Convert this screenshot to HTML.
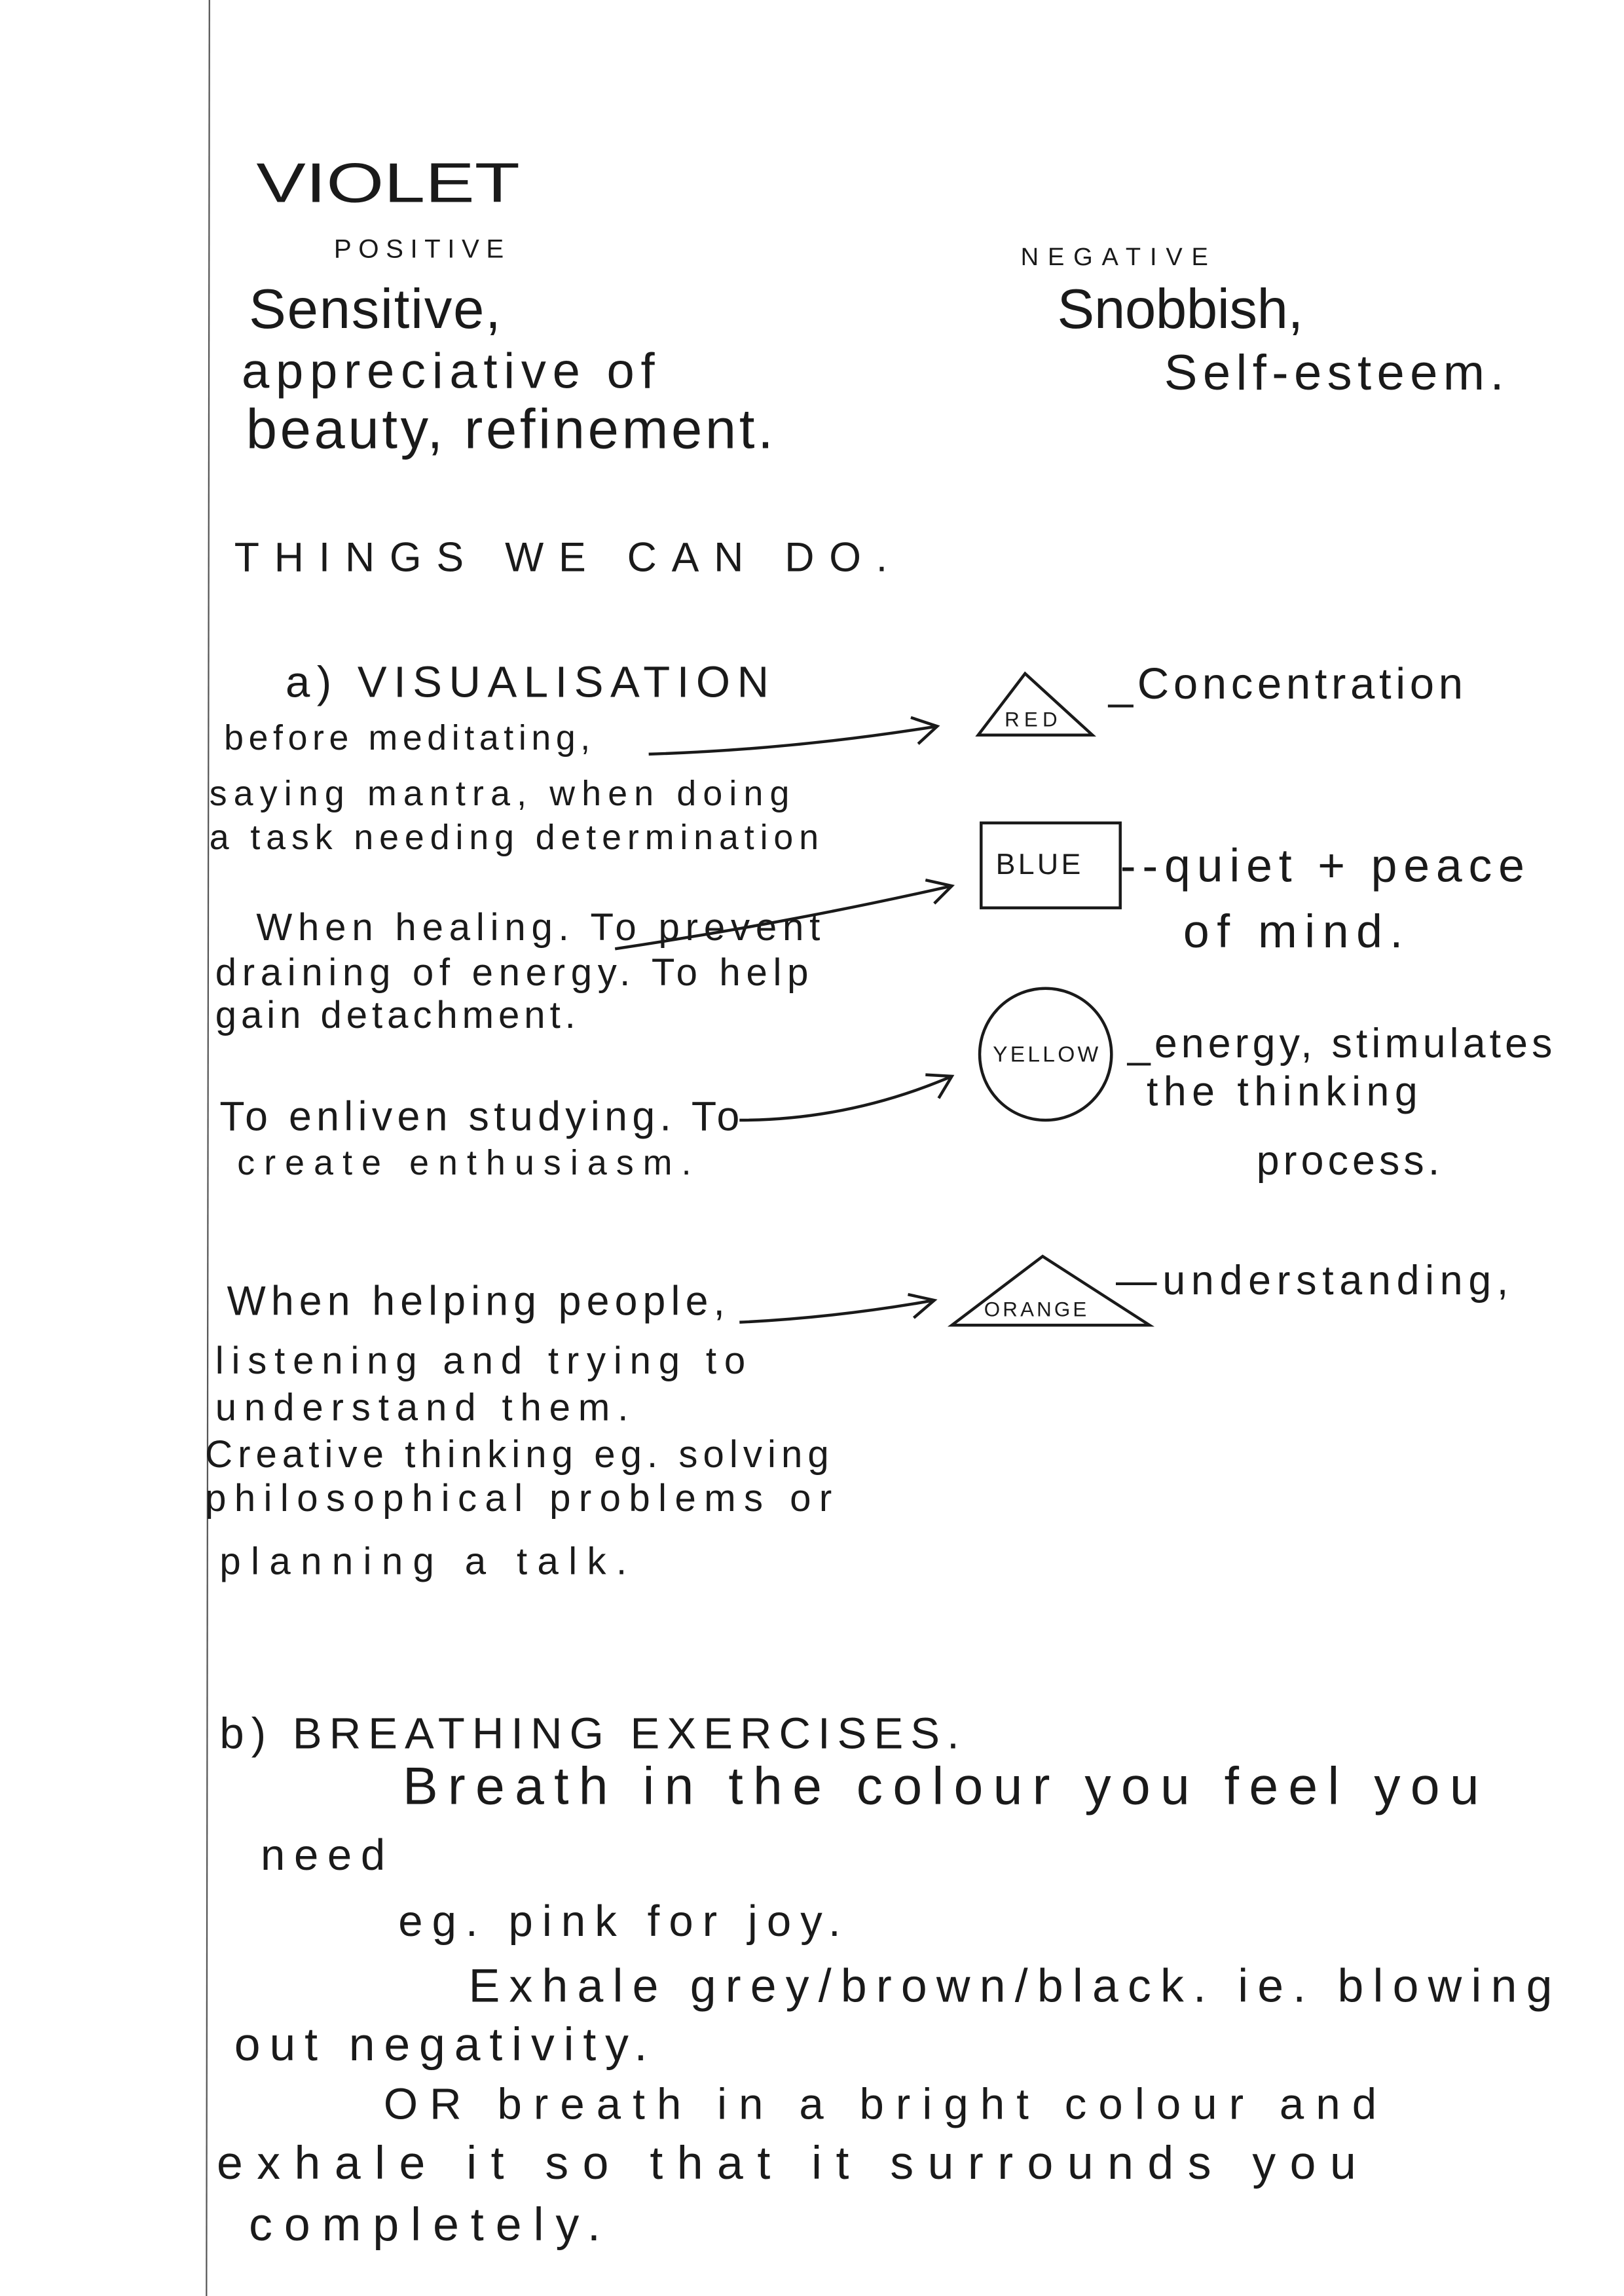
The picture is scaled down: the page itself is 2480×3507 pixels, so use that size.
<!DOCTYPE html>
<html><head><meta charset="utf-8"><style>
html,body{margin:0;padding:0;background:#fff;}
svg{display:block;}
text{font-family:"Liberation Sans",sans-serif;fill:#1a1a1a;}
</style></head><body>
<svg width="2480" height="3507" viewBox="0 0 1109 1568" preserveAspectRatio="none" xmlns="http://www.w3.org/2000/svg">
<rect width="1109" height="1568" fill="#fff"/>
<line x1="143" y1="0" x2="141" y2="1568" stroke="#555" stroke-width="1"/>
<g font-size="36">
<text x="175" y="138" font-size="38" textLength="180" lengthAdjust="spacingAndGlyphs">VIOLET</text>
<text x="228" y="176" font-size="18" textLength="116">POSITIVE</text>
<text x="697" y="181" font-size="17" textLength="128">NEGATIVE</text>
<text x="170" y="224" font-size="38" textLength="172">Sensitive,</text>
<text x="165" y="265" font-size="34" textLength="282">appreciative of</text>
<text x="168" y="306" font-size="38" textLength="360">beauty, refinement.</text>
<text x="722" y="224" font-size="38" textLength="168">Snobbish,</text>
<text x="795" y="266" font-size="34" textLength="232">Self-esteem.</text>
<text x="160" y="390" font-size="28" textLength="446">THINGS  WE  CAN  DO.</text>
<text x="195" y="476" font-size="30" textLength="330">a) VISUALISATION</text>
<text x="153" y="512" font-size="24" textLength="250">before meditating,</text>
<text x="143" y="550" font-size="24" textLength="396">saying mantra, when doing</text>
<text x="143" y="580" font-size="24" textLength="416">a task needing determination</text>
<text x="757" y="477" font-size="30" textLength="242">_Concentration</text>
<text x="765" y="602" font-size="32" textLength="276">--quiet + peace</text>
<text x="808" y="647" font-size="32" textLength="150">of mind.</text>
<text x="175" y="642" font-size="26" textLength="385">When healing. To prevent</text>
<text x="147" y="673" font-size="26" textLength="405">draining of energy. To help</text>
<text x="147" y="702" font-size="26" textLength="246">gain detachment.</text>
<text x="770" y="722" font-size="28" textLength="290">_energy, stimulates</text>
<text x="783" y="755" font-size="28" textLength="185">the thinking</text>
<text x="858" y="802" font-size="28" textLength="125">process.</text>
<text x="150" y="772" font-size="28" textLength="355">To enliven studying. To</text>
<text x="162" y="802" font-size="24" textLength="310">create enthusiasm.</text>
<text x="762" y="884" font-size="28" textLength="268">—understanding,</text>
<text x="155" y="898" font-size="28" textLength="340">When helping people,</text>
<text x="147" y="938" font-size="26" textLength="362">listening and trying to</text>
<text x="147" y="970" font-size="26" textLength="282">understand them.</text>
<text x="140" y="1002" font-size="26" textLength="426">Creative thinking eg. solving</text>
<text x="140" y="1032" font-size="26" textLength="428">philosophical problems or</text>
<text x="150" y="1075" font-size="26" textLength="278">planning a talk.</text>
<text x="150" y="1194" font-size="30" textLength="505">b) BREATHING  EXERCISES.</text>
<text x="275" y="1232" font-size="36" textLength="735">Breath in the colour you feel you</text>
<text x="178" y="1277" font-size="30" textLength="85">need</text>
<text x="272" y="1322" font-size="30" textLength="302">eg. pink for joy.</text>
<text x="320" y="1367" font-size="32" textLength="740">Exhale grey/brown/black. ie. blowing</text>
<text x="160" y="1407" font-size="32" textLength="282">out negativity.</text>
<text x="262" y="1447" font-size="30" textLength="678">OR  breath in a bright colour and</text>
<text x="148" y="1488" font-size="32" textLength="778">exhale it so that it surrounds you</text>
<text x="170" y="1530" font-size="32" textLength="240">completely.</text>
</g>
<g stroke="#1a1a1a" stroke-width="2" fill="none">
<path d="M443 515 Q540 512 640 496"/><path d="M622 490 L640 496 L627 508"/>
<polygon points="668,502 700,460 746,502"/>
<rect x="670" y="562" width="95" height="58"/>
<path d="M420 648 Q540 630 650 605"/><path d="M632 601 L650 605 L638 617"/>
<circle cx="714" cy="720" r="45"/>
<path d="M505 765 Q580 765 650 735"/><path d="M632 734 L650 735 L641 750"/>
<polygon points="650,905 712,858 785,905"/>
<path d="M505 903 Q570 900 638 888"/><path d="M620 884 L638 888 L624 900"/>
</g>
<g font-size="14">
<text x="686" y="496" textLength="36">RED</text>
<text x="680" y="597" font-size="20" textLength="58">BLUE</text>
<text x="678" y="725" font-size="15" textLength="72">YELLOW</text>
<text x="672" y="899" textLength="70">ORANGE</text>
</g>
</svg>
</body></html>
